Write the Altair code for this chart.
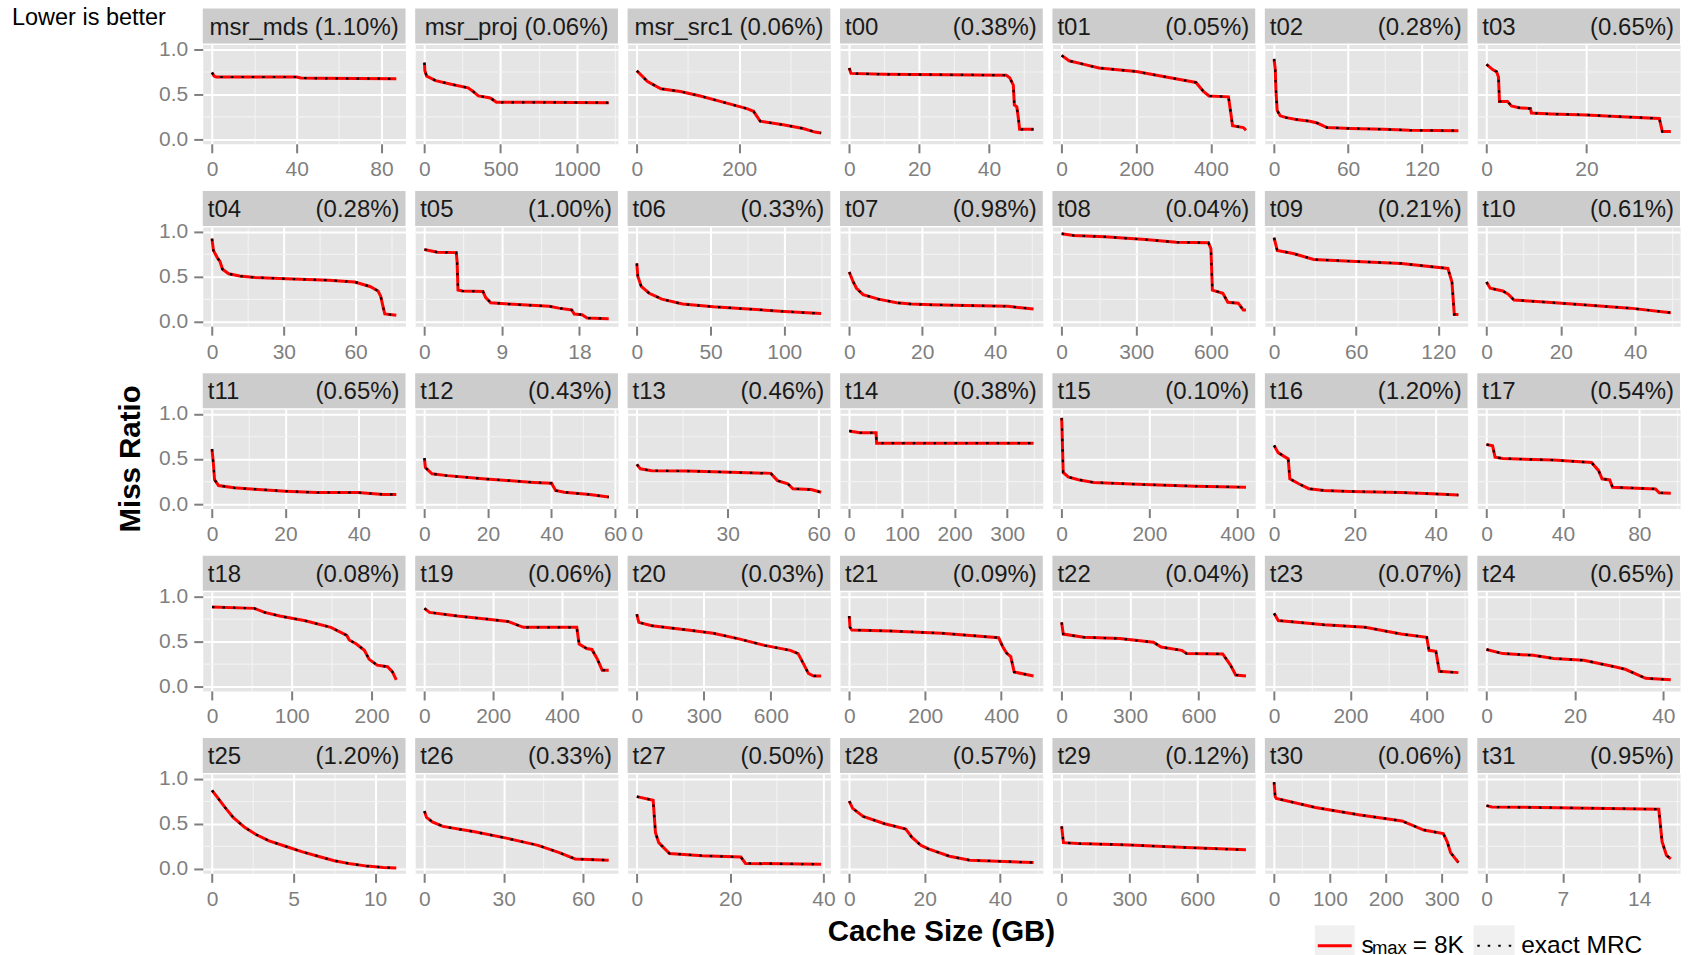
import altair as alt
import pandas as pd

# ---- trace names, sampling error, x-axis breaks -------------------------
NAMES = ["msr_mds", "msr_proj", "msr_src1",
         "t00", "t01", "t02", "t03", "t04", "t05", "t06", "t07", "t08", "t09",
         "t10", "t11", "t12", "t13", "t14", "t15", "t16", "t17", "t18", "t19",
         "t20", "t21", "t22", "t23", "t24", "t25", "t26", "t27", "t28", "t29",
         "t30", "t31"]

ERRORS = ["1.10%", "0.06%", "0.06%",
          "0.38%", "0.05%", "0.28%", "0.65%", "0.28%", "1.00%", "0.33%", "0.98%",
          "0.04%", "0.21%", "0.61%", "0.65%", "0.43%", "0.46%", "0.38%", "0.10%",
          "1.20%", "0.54%", "0.08%", "0.06%", "0.03%", "0.09%", "0.04%", "0.07%",
          "0.65%", "1.20%", "0.33%", "0.50%", "0.57%", "0.12%", "0.06%", "0.95%"]

X_TICKS = [[0, 40, 80], [0, 500, 1000], [0, 200],
           [0, 20, 40], [0, 200, 400], [0, 60, 120], [0, 20],
           [0, 30, 60], [0, 9, 18], [0, 50, 100], [0, 20, 40],
           [0, 300, 600], [0, 60, 120], [0, 20, 40],
           [0, 20, 40], [0, 20, 40, 60], [0, 30, 60], [0, 100, 200, 300],
           [0, 200, 400], [0, 20, 40], [0, 40, 80],
           [0, 100, 200], [0, 200, 400], [0, 300, 600], [0, 200, 400],
           [0, 300, 600], [0, 200, 400], [0, 20, 40],
           [0, 5, 10], [0, 30, 60], [0, 20, 40], [0, 20, 40],
           [0, 300, 600], [0, 100, 200, 300], [0, 7, 14]]

# ---- miss ratio curves: (cache size GB, miss ratio) ---------------------
msr_mds = [(0, 0.74), (1, 0.70), (2, 0.69), (40, 0.69), (42, 0.68), (50, 0.675), (87, 0.67)]
msr_proj = [(0, 0.85), (3, 0.76), (15, 0.70), (74, 0.65), (175, 0.61), (287, 0.57), (320, 0.53),
            (354, 0.48), (426, 0.46), (440, 0.45), (473, 0.41), (750, 0.41), (1210, 0.405)]
msr_src1 = [(0, 0.76), (21, 0.64), (47, 0.56), (85, 0.53), (124, 0.48), (163, 0.42), (215, 0.34),
            (228, 0.31), (241, 0.20), (286, 0.16), (325, 0.12), (348, 0.08), (360, 0.07)]
t00 = [(0, 0.79), (0.5, 0.73), (10, 0.72), (45, 0.71), (46, 0.68), (47, 0.60), (47.3, 0.38),
       (48, 0.36), (48.5, 0.22), (48.8, 0.11), (52.8, 0.11)]
t01 = [(0, 0.93), (20, 0.87), (60, 0.83), (100, 0.79), (200, 0.75), (280, 0.69), (360, 0.63),
       (380, 0.53), (395, 0.48), (447, 0.47), (452, 0.33), (458, 0.15), (487, 0.13), (494, 0.10)]
t02 = [(0, 0.89), (1, 0.77), (1.5, 0.55), (2.5, 0.32), (5, 0.26), (10, 0.24), (18, 0.22),
       (29, 0.20), (35, 0.18), (43, 0.13), (62, 0.12), (89, 0.11), (110, 0.10), (149.5, 0.095)]
t03 = [(0, 0.83), (1.3, 0.77), (2, 0.75), (2.4, 0.69), (2.6, 0.42), (4.2, 0.42), (5, 0.37),
       (6.5, 0.35), (8.8, 0.34), (9, 0.29), (13, 0.28), (20, 0.27), (27, 0.25), (34.6, 0.23),
       (35.2, 0.085), (36.9, 0.085)]
t04 = [(0, 0.92), (0.6, 0.79), (2.4, 0.70), (3.3, 0.67), (4.4, 0.58), (7, 0.53), (11.6, 0.505),
       (18, 0.49), (31, 0.475), (48.7, 0.46), (59.6, 0.44), (66, 0.39), (69.4, 0.34), (70.5, 0.28),
       (71.6, 0.15), (72.2, 0.085), (77, 0.07)]
t05 = [(0, 0.80), (1.5, 0.77), (3.7, 0.765), (3.8, 0.66), (3.9, 0.35), (4.4, 0.34), (6.8, 0.335),
       (7.1, 0.27), (7.7, 0.21), (9.8, 0.195), (14.5, 0.17), (15.6, 0.15), (17.1, 0.13),
       (17.4, 0.085), (18.3, 0.077), (18.9, 0.04), (21.4, 0.033)]
t06 = [(0, 0.645), (0.7, 0.50), (3, 0.39), (8.4, 0.315), (17, 0.25), (31, 0.195), (52, 0.165),
       (73, 0.143), (100, 0.113), (125, 0.09)]
t07 = [(0, 0.55), (1, 0.45), (2, 0.37), (3.8, 0.30), (8, 0.25), (13, 0.21), (17, 0.195),
       (22.5, 0.187), (32, 0.18), (43.5, 0.17), (50.5, 0.14)]
t08 = [(0, 0.975), (48, 0.955), (172, 0.94), (337, 0.91), (461, 0.88), (590, 0.875), (600, 0.81),
       (606, 0.35), (648, 0.315), (668, 0.215), (710, 0.205), (730, 0.13), (741, 0.13)]
t09 = [(0, 0.93), (2.3, 0.79), (14, 0.755), (29, 0.69), (56, 0.67), (93, 0.645), (127, 0.59),
       (130, 0.44), (131.7, 0.08), (134.7, 0.08)]
t10 = [(0, 0.44), (1, 0.37), (4.4, 0.34), (6, 0.30), (7.4, 0.24), (12.6, 0.225), (25, 0.19),
       (38.6, 0.15), (49.6, 0.10)]
t11 = [(0, 0.61), (0.4, 0.44), (0.7, 0.27), (1.8, 0.205), (6, 0.18), (11.6, 0.165), (20, 0.143),
       (28.5, 0.128), (39.7, 0.128), (46.7, 0.107), (50.2, 0.107)]
t12 = [(0, 0.51), (0.3, 0.405), (2.4, 0.335), (7.2, 0.315), (18.4, 0.28), (34.4, 0.24), (40, 0.23),
       (41.3, 0.15), (44, 0.13), (52, 0.106), (58, 0.077)]
t13 = [(0, 0.44), (1.2, 0.39), (4.9, 0.37), (16.8, 0.365), (33.7, 0.35), (44.2, 0.34), (46.4, 0.26),
       (49.8, 0.225), (51.5, 0.17), (57.5, 0.16), (60.8, 0.13)]
t14 = [(0, 0.81), (20, 0.79), (51, 0.79), (52, 0.675), (350, 0.675)]
t15 = [(0, 0.955), (1, 0.81), (3.5, 0.35), (15, 0.30), (38, 0.27), (73, 0.24), (188, 0.216),
       (304, 0.198), (420, 0.187)]
t16 = [(0, 0.65), (1, 0.57), (3.5, 0.50), (3.9, 0.28), (6.1, 0.225), (8.6, 0.17), (12.4, 0.15),
       (18.7, 0.14), (31.4, 0.128), (39, 0.114), (45.6, 0.10)]
t17 = [(0, 0.66), (3.2, 0.645), (4.5, 0.52), (8.5, 0.505), (35, 0.487), (55, 0.46), (58.7, 0.37),
       (60.5, 0.28), (64.5, 0.267), (66, 0.187), (88.5, 0.168), (90.4, 0.125), (96.5, 0.12)]
t18 = [(0, 0.88), (53, 0.865), (66, 0.82), (85, 0.78), (117, 0.727), (149, 0.655), (169, 0.565),
       (172, 0.515), (181, 0.47), (191, 0.40), (197, 0.30), (207, 0.236), (220, 0.218),
       (226, 0.164), (231, 0.073)]
t19 = [(0, 0.865), (15, 0.82), (96, 0.78), (185, 0.745), (243, 0.72), (288, 0.655), (443, 0.655),
       (450, 0.47), (472, 0.42), (487, 0.41), (502, 0.31), (517, 0.18), (536, 0.18)]
t20 = [(0, 0.80), (9, 0.71), (67, 0.673), (228, 0.625), (342, 0.59), (457, 0.527), (572, 0.455),
       (687, 0.40), (722, 0.364), (745, 0.255), (768, 0.145), (791, 0.116), (825, 0.116)]
t21 = [(0, 0.78), (2, 0.655), (7, 0.625), (107, 0.615), (243, 0.59), (393, 0.54), (404, 0.44),
       (414, 0.37), (425, 0.33), (434, 0.16), (485, 0.115)]
t22 = [(0, 0.71), (7, 0.58), (97, 0.545), (255, 0.53), (402, 0.49), (436, 0.436), (526, 0.40),
       (548, 0.364), (706, 0.36), (740, 0.236), (763, 0.127), (808, 0.116)]
t23 = [(0, 0.81), (11, 0.73), (131, 0.683), (239, 0.655), (333, 0.58), (400, 0.545), (406, 0.40),
       (424, 0.39), (433, 0.167), (483, 0.153)]
t24 = [(0, 0.41), (3.7, 0.364), (10.6, 0.345), (15.2, 0.31), (22, 0.29), (29, 0.218), (31.4, 0.19),
       (36, 0.09), (41.7, 0.073)]
t25 = [(0, 0.87), (0.3, 0.80), (0.8, 0.68), (1.3, 0.57), (2, 0.46), (2.7, 0.38), (3.5, 0.31),
       (4.5, 0.25), (5.5, 0.19), (6.5, 0.14), (7.5, 0.09), (8.5, 0.055), (9.5, 0.03),
       (10.5, 0.015), (11.3, 0.01)]
t26 = [(0, 0.64), (0.8, 0.57), (3, 0.52), (7, 0.47), (19, 0.41), (31, 0.34), (43, 0.26),
       (51, 0.18), (57, 0.11), (69.7, 0.095)]
t27 = [(0, 0.80), (3.5, 0.76), (4, 0.40), (4.7, 0.29), (7, 0.17), (14, 0.145), (22.3, 0.13),
       (23.3, 0.06), (39.5, 0.05)]
t28 = [(0, 0.75), (0.9, 0.67), (3.7, 0.58), (9.4, 0.50), (15, 0.44), (16.6, 0.35), (19, 0.26),
       (21, 0.22), (26.6, 0.14), (32, 0.095), (48.9, 0.07)]
t29 = [(0, 0.47), (8, 0.29), (72, 0.28), (300, 0.265), (552, 0.235), (816, 0.21)]
t30 = [(0, 0.96), (2, 0.80), (4, 0.78), (74, 0.68), (151, 0.60), (229, 0.53), (268, 0.43),
       (303, 0.39), (310, 0.30), (316, 0.18), (330, 0.07)]
t31 = [(0, 0.70), (0.5, 0.685), (8, 0.675), (15.8, 0.66), (16.1, 0.30), (16.5, 0.15), (16.9, 0.11)]

CURVES = [msr_mds, msr_proj, msr_src1, t00, t01, t02, t03, t04, t05, t06, t07, t08, t09,
          t10, t11, t12, t13, t14, t15, t16, t17, t18, t19, t20, t21, t22, t23, t24,
          t25, t26, t27, t28, t29, t30, t31]

Y_TICKS = [0, 0.5, 1.0]
Y_MINOR = [0.25, 0.75]

# ---- look ----------------------------------------------------------------
FONT = "Liberation Sans"
GREY = "#7F7F7F"
PANEL_BG = "#E5E5E5"
STRIP_BG = "#CCCCCC"
MINOR = "#F2F2F2"
W, H = 203, 99.4          # plot area of one panel
NCOL = 7
COL_GAP, ROW_GAP = 9.67, 82.6
LEFT, TOP = 201.7, 42.8   # page offset of the first panel
PAGE_W, PAGE_H = 1690, 955

ONE = alt.Data(values=[{"k": 0}])


def minor_breaks(ticks, lo, hi):
    step = ticks[1] - ticks[0]
    cand = [t + step / 2 for t in [ticks[0] - step] + ticks]
    return [c for c in cand if lo < c < hi]


def label_text(x, y, text, align="left", size=24, weight="normal", color="#1A1A1A",
               baseline="alphabetic", angle=0):
    return alt.Chart(ONE).mark_text(
        align=align, baseline=baseline, font=FONT, fontSize=size, fontWeight=weight,
        color=color, angle=angle,
    ).encode(x=alt.value(x), y=alt.value(y), text=alt.value(text))


def panel(i):
    name, err, pts, ticks = NAMES[i], ERRORS[i], CURVES[i], X_TICKS[i]
    col = i % NCOL
    df = pd.DataFrame(pts, columns=["size", "ratio"])
    xmax = df["size"].max()
    lo, hi = -0.05 * xmax, 1.05 * xmax
    xs = alt.Scale(domain=[lo, hi], nice=False, zero=False)
    ys = alt.Scale(domain=[-0.05, 1.05], nice=False, zero=False)

    grid_only = dict(labels=False, ticks=False, domain=False, grid=True, title=None)
    minor_x = alt.Axis(orient="bottom", values=minor_breaks(ticks, lo, hi),
                       gridColor=MINOR, gridWidth=1.2, **grid_only)
    minor_y = alt.Axis(orient="left", values=Y_MINOR, gridColor=MINOR, gridWidth=1.2, **grid_only)
    major_x = alt.Axis(orient="bottom", values=ticks, format="d", grid=True, gridColor="white",
                       gridWidth=2, domain=False, labelFont=FONT, labelFontSize=21,
                       labelColor=GREY, tickColor=GREY, tickSize=9, tickWidth=2,
                       labelPadding=6, labelFlush=False, labelOverlap=False, title=None)
    if col == 0:
        major_y = alt.Axis(orient="left", values=Y_TICKS, format=".1f", grid=True,
                           gridColor="white", gridWidth=2, domain=False, labelFont=FONT,
                           labelFontSize=21, labelColor=GREY, tickColor=GREY, tickSize=9,
                           tickWidth=2, labelPadding=6, title=None)
    else:
        major_y = alt.Axis(orient="left", values=Y_TICKS, gridColor="white", gridWidth=2,
                           **grid_only)

    sampled = alt.Chart(df).mark_line(color="#FF0000", strokeWidth=3, strokeCap="butt").encode(
        x=alt.X("size:Q", scale=xs, axis=minor_x),
        y=alt.Y("ratio:Q", scale=ys, axis=minor_y),
    )
    exact = alt.Chart(df).mark_line(color="black", strokeWidth=2.2, strokeDash=[2.5, 8],
                                    strokeCap="butt").encode(
        x=alt.X("size:Q", scale=xs, axis=major_x),
        y=alt.Y("ratio:Q", scale=ys, axis=major_y),
    )

    strip = alt.Chart(ONE).mark_rect(color=STRIP_BG).encode(
        x=alt.value(0), x2=alt.value(W), y=alt.value(-36), y2=alt.value(-1))
    if name.startswith("msr"):
        heads = [label_text(W / 2, -10, f"{name} ({err})", align="center")]
    else:
        heads = [label_text(5, -10, name), label_text(W - 6, -10, f"({err})", align="right")]

    layers = [sampled, exact, strip] + heads

    if i == 0:
        # page frame, so the drawing spans the full canvas
        frame = alt.Chart(ONE).mark_rect(opacity=0).encode(
            x=alt.value(-LEFT), x2=alt.value(PAGE_W - LEFT),
            y=alt.value(-TOP), y2=alt.value(PAGE_H - TOP))
        layers = [frame] + layers + [label_text(-191, -19.3, "Lower is better", size=23.5,
                                                color="black")]
    if i == 14:
        layers.append(label_text(-72, H / 2, "Miss Ratio", align="center", size=29.5,
                                 weight="bold", color="black", baseline="middle", angle=270))
    if i == 31:
        layers.append(label_text(W / 2, 167.5, "Cache Size (GB)", align="center", size=29.5,
                                 weight="bold", color="black"))
    if i == 34:
        key1 = alt.Chart(ONE).mark_rect(color="#F0F0F0").encode(
            x=alt.value(-162.7), x2=alt.value(-122.7), y=alt.value(151.5), y2=alt.value(186))
        key2 = alt.Chart(ONE).mark_rect(color="#F0F0F0").encode(
            x=alt.value(-3.7), x2=alt.value(37.3), y=alt.value(151.5), y2=alt.value(186))
        red = alt.Chart(ONE).mark_rule(color="#FF0000", strokeWidth=3).encode(
            x=alt.value(-159.7), x2=alt.value(-125.7), y=alt.value(171.9))
        dots = alt.Chart(ONE).mark_rule(color="black", strokeWidth=2.2, strokeDash=[2.5, 8]).encode(
            x=alt.value(0), x2=alt.value(34), y=alt.value(171.9))
        layers += [key1, key2, red, dots,
                   label_text(-116, 179, "s", size=24.5, color="black"),
                   label_text(-105.5, 180.5, "max", size=18.5, color="black"),
                   label_text(-64.5, 179, "= 8K", size=24.5, color="black"),
                   label_text(44, 179, "exact MRC", size=24.5, color="black")]

    return alt.layer(*layers).resolve_axis(x="independent", y="independent").properties(
        width=W, height=H)


chart = alt.concat(
    *[panel(i) for i in range(len(NAMES))],
    columns=NCOL,
    spacing={"row": ROW_GAP, "column": COL_GAP},
    bounds="flush",
).resolve_scale(
    x="independent", y="independent"
).properties(
    autosize=alt.AutoSizeParams(type="pad"),
    padding=0,
    background="white",
).configure_view(
    fill=PANEL_BG, stroke="transparent"
)

chart.save("out.html", embed_options={"renderer": "svg", "actions": False})
